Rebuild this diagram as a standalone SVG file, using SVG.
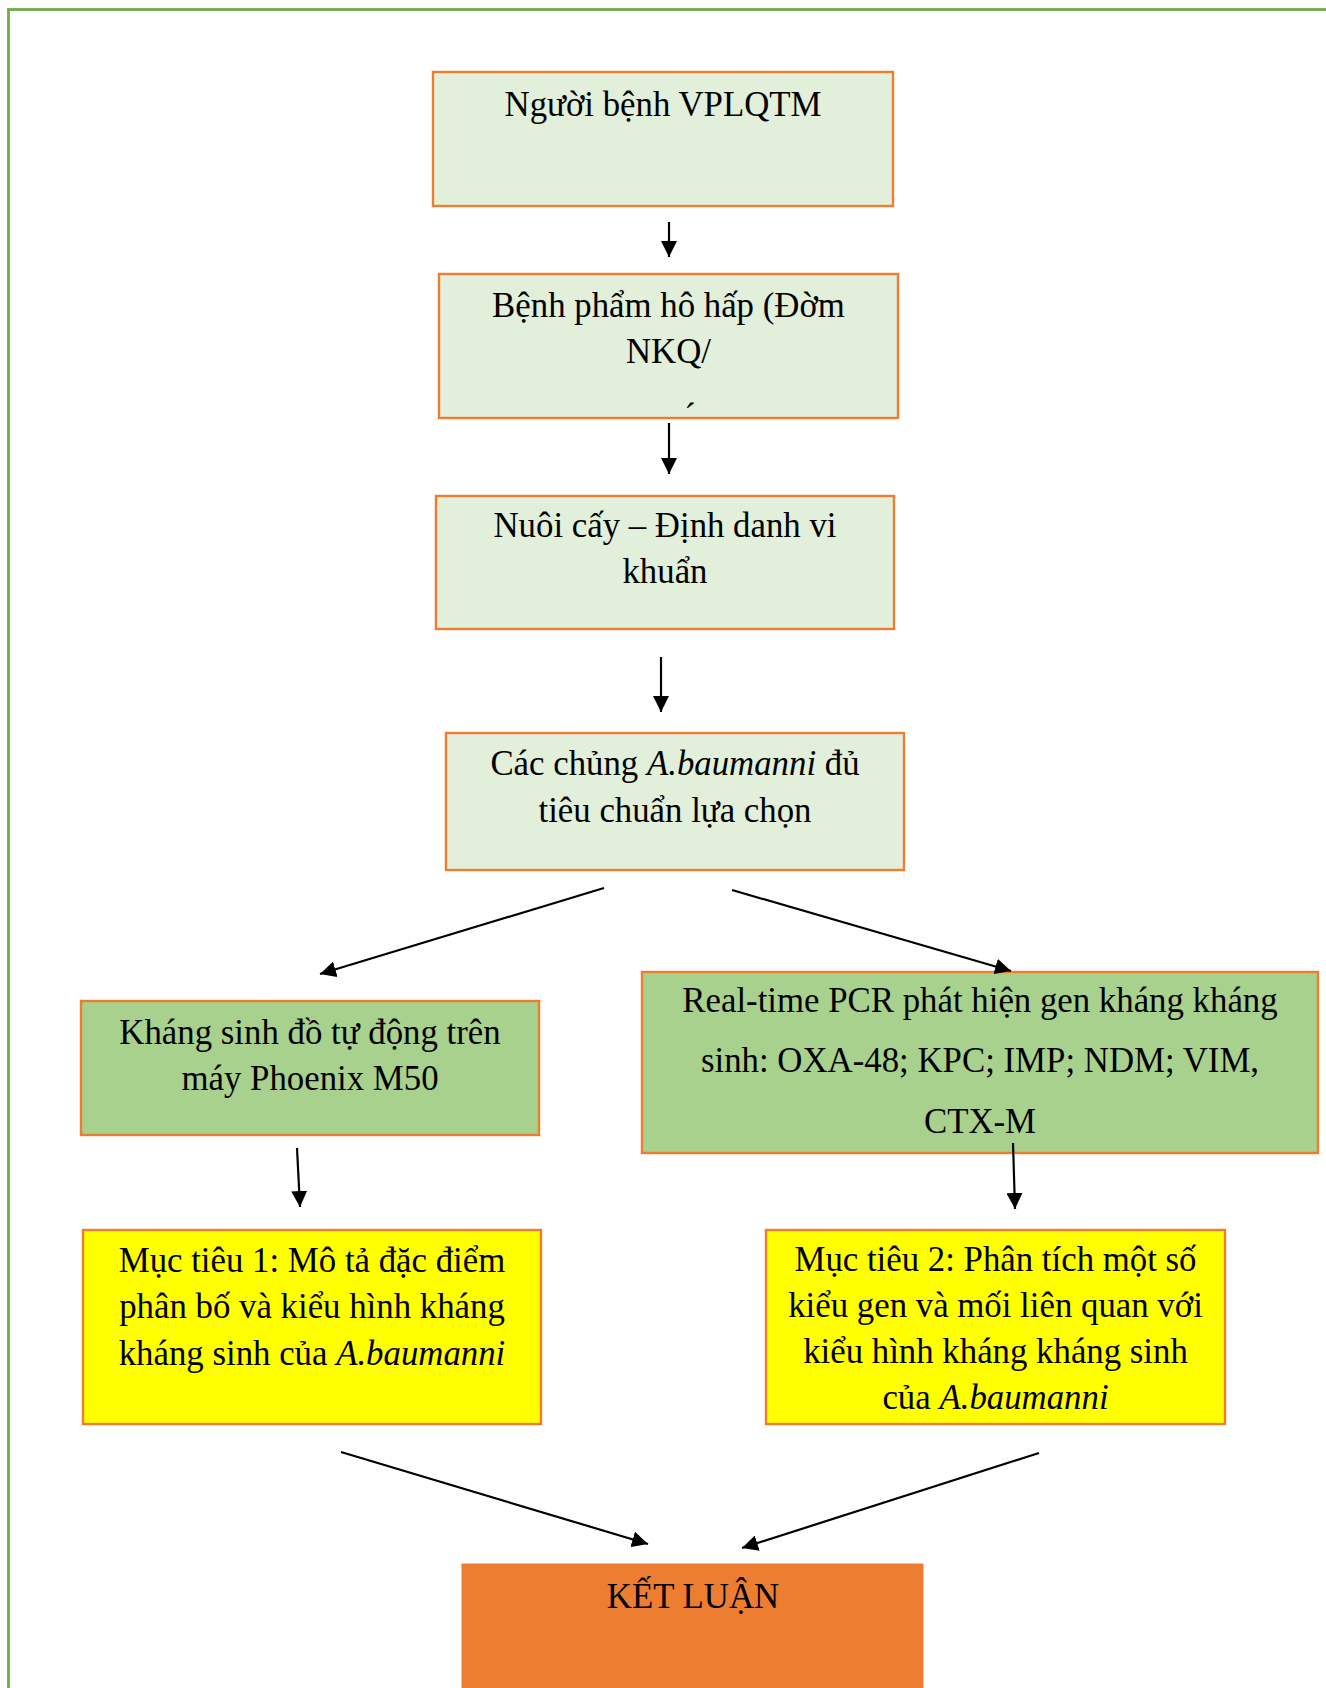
<svg xmlns="http://www.w3.org/2000/svg" width="1326" height="1688" viewBox="0 0 1326 1688">
<defs>
<style>
.box{stroke:#ed7d31;stroke-width:2.4}
.lg{fill:#e2efda}
.mg{fill:#a9d18e}
.yl{fill:#ffff00}
.or{fill:#ed7d31;stroke:#ed7d31}
text{font-family:"Liberation Serif","Times New Roman",serif;font-size:34.8px;fill:#000;text-anchor:middle}
.it{font-style:italic}
.cn line{stroke:#000;stroke-width:2.2;marker-end:url(#ah)}
</style>
<marker id="ah" viewBox="0 0 10 10" refX="10" refY="5" markerWidth="16" markerHeight="16" markerUnits="userSpaceOnUse" orient="auto">
<path d="M0,0 L10,5 L0,10 Z" fill="#000"/>
</marker>
</defs>
<rect width="1326" height="1688" fill="#fff"/>
<rect x="8.5" y="9.5" width="1500" height="1800" fill="none" stroke="#70ad47" stroke-width="2.8"/>

<g id="n1">
<rect class="box lg" x="433" y="72" width="460" height="134"/>
<text x="663" y="116">Người bệnh VPLQTM</text>
</g>
<g id="n2">
<rect class="box lg" x="439" y="274" width="459" height="144"/>
<text x="668.5" y="317">Bệnh phẩm hô hấp (Đờm</text>
<text x="668.5" y="363">NKQ/</text>
<text x="690" y="428">´</text>
</g>
<g id="n3">
<rect class="box lg" x="436" y="496" width="458" height="133"/>
<text x="665" y="537">Nuôi cấy – Định danh vi</text>
<text x="665" y="583">khuẩn</text>
</g>
<g id="n4">
<rect class="box lg" x="446" y="733" width="458" height="137"/>
<text x="675" y="775">Các chủng <tspan class="it">A.baumanni</tspan> đủ</text>
<text x="675" y="822">tiêu chuẩn lựa chọn</text>
</g>
<g id="n5">
<rect class="box mg" x="81" y="1001" width="458" height="134"/>
<text x="310" y="1044">Kháng sinh đồ tự động trên</text>
<text x="310" y="1090">máy Phoenix M50</text>
</g>
<g id="n6">
<rect class="box mg" x="642" y="972" width="676" height="181"/>
<text x="980" y="1012">Real-time PCR phát hiện gen kháng kháng</text>
<text x="980" y="1072">sinh: OXA-48; KPC; IMP; NDM; VIM,</text>
<text x="980" y="1133">CTX-M</text>
</g>
<g id="n7">
<rect class="box yl" x="83" y="1230" width="458" height="194"/>
<text x="312" y="1272">Mục tiêu 1: Mô tả đặc điểm</text>
<text x="312" y="1318">phân bố và kiểu hình kháng</text>
<text x="312" y="1365">kháng sinh của <tspan class="it">A.baumanni</tspan></text>
</g>
<g id="n8">
<rect class="box yl" x="766" y="1230" width="459" height="194"/>
<text x="995.5" y="1271">Mục tiêu 2: Phân tích một số</text>
<text x="995.5" y="1317">kiểu gen và mối liên quan với</text>
<text x="995.5" y="1363">kiểu hình kháng kháng sinh</text>
<text x="995.5" y="1409">của <tspan class="it">A.baumanni</tspan></text>
</g>
<g id="n9">
<rect class="or" x="462" y="1564" width="461" height="140"/>
<text x="693" y="1608">KẾT LUẬN</text>
</g>

<g id="connectors" class="cn">
<line x1="669" y1="222" x2="669" y2="257"/>
<line x1="669" y1="423" x2="669" y2="474"/>
<line x1="661" y1="657" x2="661" y2="712"/>
<line x1="604" y1="888" x2="320" y2="974"/>
<line x1="732" y1="890" x2="1011" y2="971"/>
<line x1="297" y1="1148" x2="300" y2="1207"/>
<line x1="1013" y1="1143" x2="1015" y2="1209"/>
<line x1="341" y1="1452" x2="648" y2="1544"/>
<line x1="1039" y1="1453" x2="742" y2="1548"/>
</g>
</svg>
